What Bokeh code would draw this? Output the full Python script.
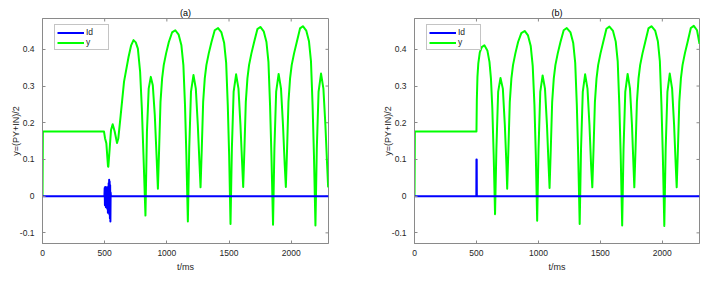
import math
from bokeh.plotting import figure
from bokeh.layouts import row
from bokeh.models import Range1d, FixedTicker, Legend, LegendItem
from bokeh.embed import file_html
from bokeh.resources import INLINE

# ---------------- data ----------------
x_ticks = [0, 500, 1000, 1500, 2000]
x_tick_labels = ["0", "500", "1000", "1500", "2000"]
y_ticks = [-0.1, 0, 0.1, 0.2, 0.3, 0.4]
y_tick_labels = ["-0.1", "0", "0.1", "0.2", "0.3", "0.4"]
x_range = (0, 2300)
y_range = (-0.129, 0.484)
titles = ["(a)", "(b)"]
x_label = "t/ms"
y_label = "y=(PY+IN)/2"
series_names = ["Id", "y"]

# panel (a): y
ya_t = [0, 3, 494.6, 502.7, 513.4, 526.8, 529.5, 540.3, 551.0, 564.4, 580.5, 599.3, 610.0,
        628.8, 655.7, 692, 712, 732, 750, 767, 785, 799, 812, 828,
        840, 854, 871, 887, 903, 917, 928,
        938, 949, 962, 975, 994, 1016, 1042, 1068, 1095, 1117, 1133, 1146, 1157, 1169,
        1180, 1194, 1214, 1233, 1249, 1263, 1271,
        1281, 1292, 1305, 1318, 1337, 1359, 1385, 1412, 1439, 1461, 1477, 1490, 1501, 1512,
        1523, 1537, 1557, 1576, 1592, 1606, 1614,
        1624, 1635, 1648, 1661, 1680, 1702, 1728, 1752, 1779, 1801, 1817, 1830, 1841, 1854,
        1865, 1879, 1899, 1918, 1934, 1948, 1957,
        1967, 1978, 1991, 2004, 2023, 2045, 2071, 2094, 2121, 2143, 2159, 2172, 2183, 2195,
        2206, 2220, 2240, 2259, 2275, 2289, 2297, 2300]
ya_y = [0, 0.176, 0.176, 0.158, 0.144, 0.081, 0.080, 0.130, 0.180, 0.196, 0.176, 0.145, 0.158,
        0.221, 0.312, 0.379, 0.410, 0.425, 0.419, 0.402, 0.339, 0.239, 0.112, -0.053,
        0.176, 0.293, 0.325, 0.302, 0.221, 0.112, 0.020,
        0.130, 0.257, 0.321, 0.357, 0.389, 0.420, 0.446, 0.452, 0.440, 0.411, 0.357, 0.248, 0.112, -0.069,
        0.130, 0.284, 0.330, 0.293, 0.194, 0.085, 0.024,
        0.130, 0.257, 0.321, 0.357, 0.389, 0.420, 0.452, 0.458, 0.446, 0.417, 0.363, 0.248, 0.112, -0.076,
        0.130, 0.284, 0.332, 0.293, 0.194, 0.085, 0.025,
        0.130, 0.257, 0.321, 0.357, 0.389, 0.420, 0.455, 0.461, 0.449, 0.420, 0.366, 0.248, 0.112, -0.078,
        0.130, 0.284, 0.333, 0.293, 0.194, 0.085, 0.025,
        0.130, 0.257, 0.321, 0.357, 0.389, 0.420, 0.457, 0.463, 0.451, 0.422, 0.368, 0.248, 0.112, -0.080,
        0.130, 0.284, 0.334, 0.293, 0.194, 0.085, 0.026, 0.040]

# panel (a): Id
ida_t = [0, 498, 500, 502, 504, 506, 508, 510, 512, 514, 516, 518, 520, 522, 524, 526,
         528, 530, 532, 534, 536, 538, 540, 542, 544, 546, 548, 550, 2300]
ida_y = [0, 0, 0.022, -0.025, 0.025, -0.020, 0.018, -0.030, 0.024, -0.028, 0.020, -0.032,
         0.022, -0.035, 0.025, -0.045, 0.020, -0.030, 0.035, -0.040, 0.045, -0.050, 0.040,
         -0.060, 0.030, -0.069, 0.010, 0, 0]

# panel (b): y
yb_t = [0, 3, 500, 503, 508, 515, 527, 543, 564, 588, 605, 617, 628, 639, 650,
        661, 675, 694, 713, 729, 742, 748,
        758, 769, 782, 795, 814, 836, 862, 889, 916, 938, 954, 968, 979, 990,
        1001, 1015, 1034, 1053, 1069, 1082, 1090,
        1100, 1111, 1124, 1137, 1156, 1178, 1204, 1229, 1259, 1281, 1297, 1310, 1321, 1333,
        1344, 1358, 1377, 1396, 1412, 1425, 1435,
        1445, 1456, 1469, 1482, 1501, 1523, 1549, 1573, 1602, 1624, 1640, 1653, 1664, 1676,
        1687, 1701, 1720, 1739, 1755, 1767, 1774,
        1784, 1795, 1808, 1821, 1840, 1862, 1888, 1912, 1942, 1964, 1980, 1993, 2004, 2016,
        2027, 2041, 2060, 2079, 2095, 2108, 2116,
        2126, 2137, 2150, 2163, 2182, 2204, 2230, 2254, 2280, 2300]
yb_y = [0, 0.176, 0.176, 0.262, 0.325, 0.362, 0.392, 0.406, 0.411, 0.397, 0.366, 0.320, 0.240, 0.112, -0.049,
        0.130, 0.284, 0.322, 0.293, 0.194, 0.085, 0.020,
        0.130, 0.257, 0.321, 0.357, 0.389, 0.420, 0.444, 0.450, 0.438, 0.409, 0.355, 0.248, 0.112, -0.067,
        0.130, 0.284, 0.329, 0.293, 0.194, 0.085, 0.022,
        0.130, 0.257, 0.321, 0.357, 0.389, 0.420, 0.452, 0.458, 0.446, 0.417, 0.363, 0.248, 0.112, -0.076,
        0.130, 0.284, 0.332, 0.293, 0.194, 0.085, 0.024,
        0.130, 0.257, 0.321, 0.357, 0.389, 0.420, 0.456, 0.462, 0.450, 0.421, 0.367, 0.248, 0.112, -0.080,
        0.130, 0.284, 0.333, 0.293, 0.194, 0.085, 0.024,
        0.130, 0.257, 0.321, 0.357, 0.389, 0.420, 0.457, 0.463, 0.451, 0.422, 0.368, 0.248, 0.112, -0.081,
        0.130, 0.284, 0.334, 0.293, 0.194, 0.085, 0.024,
        0.130, 0.257, 0.321, 0.357, 0.389, 0.420, 0.458, 0.464, 0.452, 0.415]

# panel (b): Id
idb_t = [0, 499, 500, 502, 503, 2300]
idb_y = [0, 0, 0.100, 0.100, 0, 0]

panels = [
    (ida_t, ida_y, ya_t, ya_y),
    (idb_t, idb_y, yb_t, yb_y),
]

# ---------------- style ----------------
FONT = "Liberation Sans"
AX_COL = "#8a8a8a"
TXT_COL = "#262626"
BLUE = "#0000ff"
GREEN = "#00ff00"


def style_axis(ax, ticks, labels):
    ax.ticker = FixedTicker(ticks=ticks)
    ax.major_label_overrides = {t: l for t, l in zip(ticks, labels)}
    ax.axis_line_color = AX_COL
    ax.major_tick_line_color = AX_COL
    ax.minor_tick_line_color = None
    ax.major_tick_in = 3
    ax.major_tick_out = 0
    ax.major_label_text_font = FONT
    ax.major_label_text_color = TXT_COL
    ax.major_label_text_font_size = "8.5px"
    ax.axis_label_text_font = FONT
    ax.axis_label_text_font_size = "9px"
    ax.axis_label_text_font_style = "normal"
    ax.axis_label_text_color = TXT_COL


def make_panel(idx, width, mb_left, mb_right):
    id_t, id_y, g_t, g_y = panels[idx]
    p = figure(width=width, height=283, output_backend="svg", toolbar_location=None,
               x_range=Range1d(*x_range), y_range=Range1d(*y_range),
               min_border_left=mb_left, min_border_right=mb_right,
               min_border_top=18, min_border_bottom=40)
    p.title.text = titles[idx]
    p.title.align = "center"
    p.title.text_font = FONT
    p.title.text_font_size = "9px"
    p.title.text_font_style = "normal"
    p.title.text_color = "#000000"
    p.title.standoff = 1
    p.title.offset = 0
    p.xgrid.visible = False
    p.ygrid.visible = False
    p.outline_line_color = AX_COL
    p.background_fill_color = "white"
    p.border_fill_color = "white"

    style_axis(p.xaxis[0], x_ticks, x_tick_labels)
    style_axis(p.yaxis[0], y_ticks, y_tick_labels)
    p.xaxis[0].major_label_standoff = 6
    p.xaxis[0].axis_label_standoff = 3
    p.yaxis[0].major_label_standoff = 8
    p.yaxis[0].axis_label_standoff = -4
    p.xaxis[0].axis_label = x_label
    p.yaxis[0].axis_label = y_label

    # mirrored inward ticks on the top and right edges of the box
    p.scatter(x_ticks, [y_range[1]] * len(x_ticks), marker="dash", size=6,
              angle=math.pi / 2, line_color=AX_COL, line_width=1)
    p.scatter([x_range[1]] * len(y_ticks), y_ticks, marker="dash", size=6,
              line_color=AX_COL, line_width=1)

    r_y = p.line(g_t, g_y, line_color=GREEN, line_width=2, line_join="round")
    r_id = p.line(id_t, id_y, line_color=BLUE, line_width=2, line_join="round")

    legend = Legend(items=[LegendItem(label=series_names[0], renderers=[r_id]),
                           LegendItem(label=series_names[1], renderers=[r_y])],
                    location=(12, 193))
    legend.padding = 2
    legend.spacing = 0
    legend.margin = 0
    legend.glyph_height = 9
    legend.glyph_width = 27
    legend.label_height = 9
    legend.label_standoff = 2
    legend.label_text_font = FONT
    legend.label_text_font_size = "8.5px"
    legend.label_text_color = TXT_COL
    legend.border_line_color = AX_COL
    legend.background_fill_color = "white"
    legend.background_fill_alpha = 1
    p.add_layout(legend, "center")
    return p


p1 = make_panel(0, 372, 42, 44)
p2 = make_panel(1, 335, 42, 8)
layout = row(p1, p2)

open("out.html", "w").write(file_html(layout, INLINE))
